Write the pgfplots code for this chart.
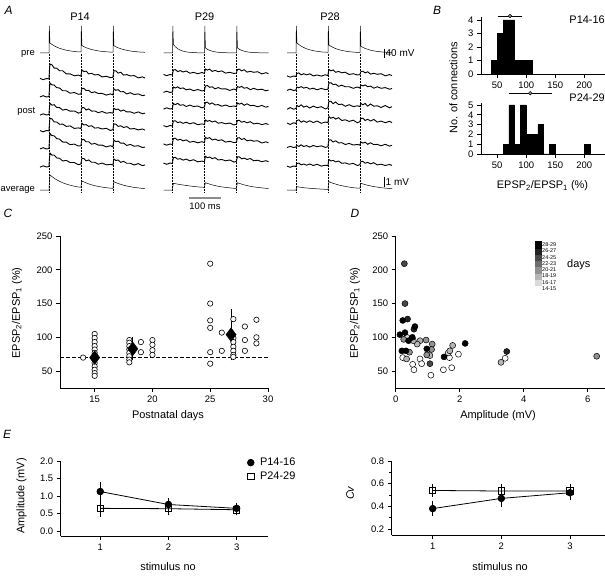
\documentclass[border=0pt]{standalone}
\usepackage{fontspec}
\setmainfont{Liberation Sans}
\usepackage{pgfplots}
\usepackage{pgfplotstable}
\pgfplotsset{compat=1.18}
\newcommand{\fs}[1]{\fontsize{#1}{#1}\selectfont}

% traces: t in ms from first stimulus, values in px above baseline
\pgfplotstableread{
t pre a b c d e f avg
-28 0 0.6 -0.4 -0.6 0.4 -0.4 -0.6 0
-18 0 -0.7 0.8 0.7 -0.8 0.8 0.7 0
-8 0 0.5 -0.5 -0.5 0.5 -0.5 -0.5 0
0 0 0 0 0 0 0 0 0
1 27 7 6.3 5.3 6.0 7 6.3 7
3 10 15 13.5 11.3 12.8 15 13.5 15
9 8.6 14.3 11.6 9.3 12.1 12.9 11.4 13.5
16 7.2 10.9 11.5 9.8 9.1 12.7 11.5 11.8
24 5.9 10.8 8.9 7.1 9.0 9.9 8.6 10.2
33 4.7 8.3 8.5 6.9 6.7 9.4 8.2 8.7
43 3.7 8.2 5.7 4.4 6.9 6.4 5.5 7.2
54 2.8 5.1 5.7 5.2 4.6 6.3 6.1 5.9
66 2.1 5.1 3.3 3.3 5.1 3.8 4.0 4.8
79 1.5 3.2 4.0 3.5 2.6 4.4 4.0 3.8
92 1.1 3.9 2.2 1.4 3.1 2.5 1.8 3.0
100 1.0 2.8 2.5 2.1 2.4 2.8 2.5 2.8
101 27 6 5.4 4.5 5.1 6 5.4 6
103 7.5 9 8.1 6.8 7.7 9 8.1 9
109 6.3 7.4 8.2 6.8 6.0 9.0 8.0 8.1
116 5.3 7.9 6.0 4.5 6.4 6.7 5.6 7.1
124 4.4 5.1 6.1 5.6 4.6 6.7 6.5 6.1
133 3.5 5.7 3.8 3.4 5.3 4.3 4.2 5.2
143 2.8 4.0 4.7 3.5 2.9 5.1 4.2 4.3
154 2.1 4.5 3.0 1.8 3.3 3.4 2.3 3.6
166 1.6 2.1 3.1 3.0 2.0 3.4 3.4 2.9
179 1.2 2.7 1.4 1.3 2.7 1.6 1.7 2.3
192 0.9 1.3 2.6 1.9 0.5 2.8 2.1 1.8
200 0.8 1.7 1.5 1.3 1.4 1.7 1.5 1.7
201 27 5 4.5 3.8 4.3 5 4.5 5
203 7.3 8.3 7.5 6.2 7.1 8.3 7.5 8.3
209 6.2 8.1 6.2 4.9 6.8 6.9 6.0 7.4
216 5.2 5.9 6.8 5.5 4.6 7.4 6.5 6.5
224 4.3 6.7 4.7 3.3 5.2 5.3 4.1 5.7
233 3.4 3.9 4.9 4.5 3.5 5.4 5.2 4.8
243 2.7 4.4 2.6 2.6 4.4 3.0 3.2 4.0
254 2.0 3.1 3.8 2.7 2.0 4.1 3.2 3.3
266 1.5 3.4 2.0 1.2 2.5 2.3 1.5 2.6
279 1.1 1.1 2.6 2.6 1.1 2.8 2.9 2.1
292 0.8 2.1 0.8 0.7 2.0 1.0 0.9 1.6
300 0.7 0.9 1.4 1.4 0.9 1.5 1.6 1.3
}\trA

\pgfplotstableread{
t pre a b c d e f avg
-28 0 0.6 -0.4 -0.6 0.4 0.6 0.4 0
-18 0 -0.7 0.8 0.7 -0.8 -0.7 -0.8 0
-8 0 0.5 -0.5 -0.5 0.5 0.5 0.5 0
0 0 0 0 0 0 0 0 0
1 27 2.5 2.5 2.5 2.5 3 3 3.4
3 8.3 5 5 5 5 6 6 6.7
9 6.2 5.4 4.0 3.8 5.2 6.3 6.1 6.3
16 4.3 3.4 5.2 5.2 3.4 4.3 4.3 5.9
24 2.9 4.4 3.5 3.2 4.1 5.2 4.9 5.4
33 1.9 3.0 4.1 3.8 2.7 3.7 3.4 5.0
43 1.1 4.0 2.2 2.0 3.8 4.6 4.4 4.5
54 0.7 1.8 3.0 3.4 2.2 2.3 2.7 4.0
66 0.4 2.6 1.3 2.0 3.3 3.1 3.8 3.6
79 0.2 1.3 2.5 2.5 1.3 1.7 1.7 3.1
92 0.1 2.5 1.1 0.7 2.1 2.8 2.4 2.8
100 0.1 1.5 1.5 1.5 1.5 1.8 1.8 2.7
101 27 3.5 3.5 3.5 3.5 4.2 4.2 5
103 5 6 6 6 6 7.2 7.2 7.3
109 3.7 4.9 6.5 6.3 4.7 6.0 5.8 6.6
116 2.6 5.9 4.7 4.3 5.5 6.9 6.5 5.9
124 1.8 3.6 5.2 5.6 4.0 4.5 4.9 5.1
133 1.1 4.6 3.2 3.6 5.0 5.4 5.8 4.4
143 0.7 3.3 4.4 3.9 2.8 4.0 3.5 3.7
154 0.4 4.1 3.0 2.3 3.4 4.7 4.0 3.1
166 0.3 1.9 3.2 3.5 2.2 2.4 2.7 2.6
179 0.1 2.7 1.6 1.9 3.0 3.2 3.5 2.1
192 0.1 1.5 3.0 2.5 1.0 1.9 1.4 1.7
200 0.1 1.9 1.9 1.9 1.9 2.3 2.3 1.6
201 27 3.5 3.5 3.5 3.5 4.2 4.2 4.5
203 5 5.5 5.5 5.5 5.5 6.6 6.6 7.3
209 3.7 5.8 4.6 4.4 5.6 6.8 6.6 6.6
216 2.6 4.1 5.6 5.3 3.8 5.0 4.7 5.9
224 1.8 5.2 3.8 3.2 4.6 6.0 5.4 5.1
233 1.1 2.9 4.4 4.7 3.2 3.7 4.0 4.4
243 0.7 3.7 2.3 2.9 4.3 4.4 5.0 3.7
254 0.4 2.7 3.7 3.1 2.1 3.3 2.7 3.1
266 0.3 3.3 2.2 1.7 2.8 3.8 3.3 2.6
279 0.1 1.1 2.8 3.1 1.4 1.5 1.8 2.1
292 0.1 2.3 1.2 1.3 2.4 2.7 2.8 1.7
300 0 1.3 1.9 2.1 1.5 1.6 1.8 1.5
}\trB

\pgfplotstableread{
t pre a b c d e f avg
-28 0 0.6 -0.4 -0.8 0.5 -0.6 0.4 0
-18 0 -0.7 0.8 0.9 -1.0 0.7 -0.8 0
-8 0 0.5 -0.5 -0.7 0.7 -0.5 0.5 0
0 0 0 0 0 0 0 0 0
1 27 1.5 1.5 1.5 1.5 1 1.5 1.6
3 10 3 3 3 3 1.5 3 3.3
9 8.4 3.6 2.2 1.8 3.6 0.6 3.4 3.0
16 6.9 1.6 3.4 3.7 1.3 2.2 1.6 2.7
24 5.5 2.8 1.9 1.4 2.6 0.5 2.5 2.3
33 4.2 1.6 2.7 2.5 1.1 1.4 1.3 2.0
43 3.2 2.7 0.9 0.4 2.7 -0.1 2.5 1.7
54 2.3 0.6 1.8 2.4 0.9 1.5 1.0 1.4
66 1.7 1.5 0.2 0.8 2.5 0.3 2.2 1.2
79 1.1 0.4 1.6 1.8 0.2 1.1 0.4 0.9
92 0.8 1.7 0.3 -0.4 1.5 -0.4 1.3 0.7
100 0.7 0.8 0.8 0.8 0.8 0.3 0.8 0.7
101 27 4 4 4 4 4 4 4.5
103 8 7 7 7 7 7 7 8.3
109 6.7 5.7 7.3 7.3 5.2 7.1 5.5 7.5
116 5.5 6.6 5.4 4.8 6.3 5.0 6.2 6.7
124 4.4 4.2 5.8 6.5 4.4 6.2 4.6 5.9
133 3.4 5.1 3.7 3.9 5.8 4.1 5.5 5.0
143 2.6 3.7 4.8 4.4 3.0 4.3 3.2 4.3
154 1.9 4.3 3.2 2.2 3.7 2.5 3.6 3.6
166 1.3 2.0 3.3 3.8 2.1 3.6 2.3 2.9
179 0.9 2.8 1.7 1.9 3.3 2.0 3.1 2.3
192 0.6 1.5 3.0 2.7 0.7 2.5 1.0 1.9
200 0.6 1.9 1.9 1.9 1.9 1.9 1.9 1.8
201 27 3.5 3.5 3.5 3.5 3.5 3.5 4.2
203 6.7 5 5 5 5 5 5 6.7
209 5.6 5.3 4.1 3.7 5.3 3.9 5.1 6.1
216 4.6 3.6 5.1 5.0 3.0 4.8 3.3 5.4
224 3.7 4.7 3.3 2.4 4.2 2.7 4.1 4.7
233 2.8 2.4 3.9 4.5 2.5 4.2 2.7 4.1
243 2.1 3.2 1.8 2.3 4.1 2.4 3.8 3.4
254 1.6 2.2 3.2 2.7 1.4 2.6 1.6 2.9
266 1.1 2.8 1.7 1.0 2.4 1.2 2.3 2.3
279 0.8 0.7 2.4 3.0 0.8 2.7 1.0 1.9
292 0.5 1.9 0.8 0.7 2.2 0.9 2.0 1.5
300 0.4 0.9 1.5 1.8 1.0 1.7 1.1 1.3
}\trC

\pgfplotsset{
  every axis/.append style={
    scale only axis, clip=false, anchor=south west,
    axis lines=left, axis line style={-, line width=0.8bp},
    tick style={line width=0.8bp, black}, tick align=outside,
    major tick length=4bp, minor tick length=2.5bp,
    tick label style={font=\fs{9.5}},
    /pgf/number format/assume math mode=true},
  colormap={days}{gray(0cm)=(1); gray(1cm)=(0)},
  trpost/.style={black, line width=0.9bp, no marks},
  trthin/.style={black, line width=0.5bp, no marks},
}

\begin{document}
\begin{tikzpicture}
% ---------- canvas in image pixels (panel A and free text) ----------
\begin{axis}[at={(0bp,0bp)}, width=605bp, height=579bp, hide axis,
  xmin=0, xmax=605, ymin=0, ymax=579, y dir=reverse]
% column P14
\addplot[trthin] table[x expr=\thisrow{t}*0.32+49, y expr=53-\thisrow{pre}] {\trA};
\addplot[trpost] table[x expr=\thisrow{t}*0.32+49, y expr=79-\thisrow{a}] {\trA};
\addplot[trpost] table[x expr=\thisrow{t}*0.32+49, y expr=96.5-\thisrow{b}] {\trA};
\addplot[trpost] table[x expr=\thisrow{t}*0.32+49, y expr=114.5-\thisrow{c}] {\trA};
\addplot[trpost] table[x expr=\thisrow{t}*0.32+49, y expr=131-\thisrow{d}] {\trA};
\addplot[trpost] table[x expr=\thisrow{t}*0.32+49, y expr=148.5-\thisrow{e}] {\trA};
\addplot[trpost] table[x expr=\thisrow{t}*0.32+49, y expr=166.5-\thisrow{f}] {\trA};
\addplot[trthin] table[x expr=\thisrow{t}*0.32+49, y expr=190-\thisrow{avg}] {\trA};
% column P29
\addplot[trthin] table[x expr=\thisrow{t}*0.32+172.5, y expr=53-\thisrow{pre}] {\trB};
\addplot[trpost] table[x expr=\thisrow{t}*0.32+172.5, y expr=75-\thisrow{a}] {\trB};
\addplot[trpost] table[x expr=\thisrow{t}*0.32+172.5, y expr=92-\thisrow{b}] {\trB};
\addplot[trpost] table[x expr=\thisrow{t}*0.32+172.5, y expr=108.5-\thisrow{c}] {\trB};
\addplot[trpost] table[x expr=\thisrow{t}*0.32+172.5, y expr=126-\thisrow{d}] {\trB};
\addplot[trpost] table[x expr=\thisrow{t}*0.32+172.5, y expr=144.5-\thisrow{e}] {\trB};
\addplot[trpost] table[x expr=\thisrow{t}*0.32+172.5, y expr=163.5-\thisrow{f}] {\trB};
\addplot[trthin] table[x expr=\thisrow{t}*0.32+172.5, y expr=190-\thisrow{avg}] {\trB};
% column P28
\addplot[trthin] table[x expr=\thisrow{t}*0.32+296, y expr=53-\thisrow{pre}] {\trC};
\addplot[trpost] table[x expr=\thisrow{t}*0.32+296, y expr=76.5-\thisrow{a}] {\trC};
\addplot[trpost] table[x expr=\thisrow{t}*0.32+296, y expr=90-\thisrow{b}] {\trC};
\addplot[trpost] table[x expr=\thisrow{t}*0.32+296, y expr=108.5-\thisrow{c}] {\trC};
\addplot[trpost] table[x expr=\thisrow{t}*0.32+296, y expr=123.5-\thisrow{d}] {\trC};
\addplot[trpost] table[x expr=\thisrow{t}*0.32+296, y expr=147-\thisrow{e}] {\trC};
\addplot[trpost] table[x expr=\thisrow{t}*0.32+296, y expr=166.5-\thisrow{f}] {\trC};
\addplot[trthin] table[x expr=\thisrow{t}*0.32+296, y expr=190-\thisrow{avg}] {\trC};
% stimulus markers
\draw[densely dotted, line width=0.5bp] (axis cs:49,54) -- (axis cs:49,193);
\draw[densely dotted, line width=0.5bp] (axis cs:81,54) -- (axis cs:81,193);
\draw[densely dotted, line width=0.5bp] (axis cs:113,54) -- (axis cs:113,193);
\draw[densely dotted, line width=0.5bp] (axis cs:172.5,54) -- (axis cs:172.5,193);
\draw[densely dotted, line width=0.5bp] (axis cs:204.5,54) -- (axis cs:204.5,193);
\draw[densely dotted, line width=0.5bp] (axis cs:236.5,54) -- (axis cs:236.5,193);
\draw[densely dotted, line width=0.5bp] (axis cs:296,54) -- (axis cs:296,193);
\draw[densely dotted, line width=0.5bp] (axis cs:328,54) -- (axis cs:328,193);
\draw[densely dotted, line width=0.5bp] (axis cs:360,54) -- (axis cs:360,193);
% scale bars
\draw[line width=0.7bp] (axis cs:384,49) -- (axis cs:384,58.5);
\draw[line width=0.7bp] (axis cs:384,177) -- (axis cs:384,187);
\draw[line width=1.2bp, black!45] (axis cs:189,198) -- (axis cs:221,198);
\node[anchor=west, font=\fs{10}, inner sep=1bp] at (axis cs:384.5,53.5) {40 mV};
\node[anchor=west, font=\fs{10}, inner sep=1bp] at (axis cs:384.5,182) {1 mV};
\node[font=\fs{9.5}] at (axis cs:205,206.5) {100 ms};
% panel A text
\node[font=\fs{12}\itshape] at (axis cs:8.5,10) {A};
\node[font=\fs{11}] at (axis cs:80,16.5) {P14};
\node[font=\fs{11}] at (axis cs:204.5,16.5) {P29};
\node[font=\fs{11}] at (axis cs:330,16.5) {P28};
\node[anchor=east, font=\fs{9.5}, inner sep=0pt] at (axis cs:35,54) {pre};
\node[anchor=east, font=\fs{9.5}, inner sep=0pt] at (axis cs:35.5,111) {post};
\node[anchor=east, font=\fs{9.5}, inner sep=0pt] at (axis cs:35,190) {average};
% panel B text
\node[font=\fs{12}\itshape] at (axis cs:437,10) {B};
\node[rotate=90, font=\fs{11}] at (axis cs:453.5,88) {No. of connections};
\node[font=\fs{11}] at (axis cs:542.5,186) {EPSP\textsubscript{2}/EPSP\textsubscript{1} (\%)};
\node[anchor=east, font=\fs{11}, inner sep=0pt] at (axis cs:605,20) {P14-16};
\node[anchor=east, font=\fs{11}, inner sep=0pt] at (axis cs:605,98) {P24-29};
% panel C, D text
\node[font=\fs{12}\itshape] at (axis cs:8,213) {C};
\node[font=\fs{12}\itshape] at (axis cs:355,213) {D};
\node[rotate=90, font=\fs{11}] at (axis cs:17,313) {EPSP\textsubscript{2}/EPSP\textsubscript{1} (\%)};
\node[rotate=90, font=\fs{11}] at (axis cs:355,313) {EPSP\textsubscript{2}/EPSP\textsubscript{1} (\%)};
\node[font=\fs{11}] at (axis cs:168,416) {Postnatal days};
\node[font=\fs{11}] at (axis cs:498,416) {Amplitude (mV)};
\node[anchor=west, font=\fs{11}, inner sep=0pt] at (axis cs:567,265) {days};
% panel E text
\node[font=\fs{12}\itshape] at (axis cs:7,434) {E};
\node[rotate=90, font=\fs{11}] at (axis cs:21.5,496) {Amplitude (mV)};
\node[rotate=90, font=\fs{11}] at (axis cs:350,493) {\textit{Cv}};
\node[font=\fs{11}] at (axis cs:168,567) {stimulus no};
\node[font=\fs{11}] at (axis cs:500,567) {stimulus no};
\end{axis}

% ---------- B: histograms ----------
\begin{axis}[at={(481bp,505bp)}, width=124bp, height=56.7bp,
  xmin=22, xmax=236, ymin=0, ymax=4.2, xtick={50,100,150,200}, ytick={0,1,2,3,4}]
\addplot[ybar interval, fill=black, draw=black] coordinates
  {(40,1) (50,3) (60,4) (70,4) (80,1) (90,1) (100,1) (110,0)};
\addplot[black, only marks, mark=*, mark size=1.8bp, mark options={fill=black!45, line width=0.5bp},
  error bars/.cd, x dir=both, x explicit, error bar style={line width=0.6bp},
  error mark options={mark size=2bp, line width=0.6bp}]
  coordinates {(72,4.3) +- (18,0)};
\end{axis}
\begin{axis}[at={(481bp,425bp)}, width=124bp, height=51bp,
  xmin=22, xmax=236, ymin=0, ymax=5.2, xtick={50,100,150,200}, ytick={0,1,2,3,4,5}]
\addplot[ybar interval, fill=black, draw=black] coordinates
  {(60,1) (70,5) (80,1) (90,5) (100,2) (110,2) (120,3) (130,0) (140,1) (150,0)};
\addplot[ybar interval, fill=black, draw=black] coordinates {(200,1) (210,0)};
\addplot[black, only marks, mark=*, mark size=1.8bp, mark options={fill=black!45, line width=0.5bp},
  error bars/.cd, x dir=both, x explicit, error bar style={line width=0.6bp},
  error mark options={mark size=2bp, line width=0.6bp}]
  coordinates {(107,6.2) +- (34,0)};
\end{axis}

% ---------- C: ratio vs age ----------
\begin{axis}[at={(60bp,191bp)}, width=208bp, height=152bp,
  xmin=12, xmax=30, ymin=25, ymax=250, xtick={15,20,25,30}, ytick={50,100,150,200,250}]
\addplot[black, line width=0.8bp, dash pattern=on 3.5bp off 2.5bp] coordinates {(12,70) (30,70)};
\addplot[black, only marks, mark=*, mark size=2.7bp, mark options={fill=white, line width=0.6bp}]
  coordinates {
  (14,70)
  (15,105) (15,99) (15,93) (15,87) (15,82) (15,77) (15,72) (15,67) (15,62) (15,57) (15,52) (15,47) (15,43)
  (18,96) (18,92) (18,87) (18,82) (18,77) (18,72) (18,67) (18,63)
  (19,93) (19,78)
  (20,96) (20,89) (20,81) (20,74)
  (25,209) (25,150) (25,125) (25,114) (25,78) (25,61)
  (26,107) (26,80)
  (27,127) (27,99) (27,93) (27,86) (27,80) (27,74) (27,71)
  (28,116) (28,96) (28,80)
  (29,126) (29,100) (29,91)};
\addplot[black, only marks, mark=diamond*, mark size=6.8bp,
  error bars/.cd, y dir=both, y explicit, error bar style={line width=0.8bp},
  error mark options={mark size=3.5bp, line width=0.8bp}]
  coordinates {(15,70) +- (0,16) (18.3,83) +- (0,12) (26.8,104) +- (0,33)};
\end{axis}

% ---------- D: ratio vs amplitude ----------
\begin{axis}[at={(395.7bp,191bp)}, width=209.3bp, height=152bp,
  xmin=0, xmax=6.54, ymin=25, ymax=250, xtick={0,2,4,6}, ytick={50,100,150,200,250},
  point meta min=14, point meta max=28]
\addplot[scatter, only marks, mark=*, mark size=3bp, point meta=explicit,
  scatter/use mapped color={draw=black, fill=mapped color}, line width=0.5bp]
  coordinates {
  (0.22,70) [14] (0.53,60) [14] (0.57,52) [14] (0.76,68) [14] (0.81,61) [14]
  (1.10,44) [14] (1.49,52) [14] (1.75,55) [14] (1.68,70) [14] (1.96,75) [14] (3.42,69) [14]
  (0.35,100) [16] (1.64,77) [16]
  (0.34,68) [18] (0.76,95) [18] (1.07,73) [18] (0.67,90) [18] (0.55,95) [18]
  (1.78,88) [18] (1.69,80) [18] (3.29,63) [18]
  (0.43,78) [20] (0.25,97) [20] (0.95,96) [20] (1.14,90) [20] (1.12,82) [20]
  (0.97,74) [20] (6.28,72) [20]
  (0.27,209) [24] (0.29,150) [24] (1.07,61) [24]
  (0.37,127) [26] (0.57,112) [26] (3.47,79) [26]
  (0.22,125) [28] (0.60,116) [28] (0.13,104) [28] (0.29,107) [28] (0.40,95) [28]
  (0.52,100) [28] (0.19,80) [28] (0.32,80) [28] (0.97,83) [28] (1.51,71) [28] (2.17,91) [28]};
\end{axis}
% colour key
\begin{axis}[at={(535bp,287.3bp)}, width=6bp, height=50bp, axis lines=box,
  axis line style={line width=0.4bp}, xmin=0, xmax=1, ymin=14, ymax=30,
  xtick=\empty, ytick={15,17,19,21,23,25,27,29}, yticklabel pos=right,
  yticklabels={14-15,16-17,18-19,20-21,22-23,24-25,26-27,28-29},
  major tick length=0pt, tick label style={font=\fs{5.5}, inner sep=1bp},
  point meta min=14, point meta max=28]
\addplot[scatter, only marks, mark=square*, mark size=3.1bp, point meta=explicit,
  scatter/use mapped color={draw=mapped color, fill=mapped color}]
  coordinates {(0.5,15) [14] (0.5,17) [16] (0.5,19) [18] (0.5,21) [20]
               (0.5,23) [22] (0.5,25) [24] (0.5,27) [26] (0.5,29) [28]};
\end{axis}

% ---------- E: amplitude and Cv ----------
\begin{axis}[at={(60.7bp,43bp)}, width=207.3bp, height=74.9bp,
  xmin=0.42, xmax=3.46, ymin=-0.14, ymax=2.0, xtick={1,2,3}, ytick={0,0.5,1,1.5,2},
  yticklabel style={/pgf/number format/.cd, fixed, fixed zerofill, precision=1},
  reverse legend,
  legend style={at={(0.9,1.07)}, anchor=north west, draw=none, fill=none,
    font=\fs{11}, inner sep=0pt, row sep=0.5bp, cells={anchor=west}},
  legend image code/.code={\draw[#1] plot[only marks] coordinates {(0.17cm,0cm)};}]
\addplot[black, line width=0.8bp, mark=square, mark size=3.2bp, mark options={fill=white, solid},
  error bars/.cd, y dir=both, y explicit, error bar style={line width=0.8bp},
  error mark options={mark size=3.2bp, line width=0.8bp}]
  coordinates {(1,0.65) +- (0,0.15) (2,0.64) +- (0,0.1) (3,0.61) +- (0,0.06)};
\addlegendentry{\hspace{4bp}P24-29}
\addplot[black, line width=0.8bp, mark=*, mark size=3.3bp,
  error bars/.cd, y dir=both, y explicit, error bar style={line width=0.8bp},
  error mark options={mark size=3.2bp, line width=0.8bp}]
  coordinates {(1,1.13) +- (0,0.17) (2,0.76) +- (0,0.1) (3,0.65) +- (0,0.07)};
\addlegendentry{\hspace{4bp}P14-16}
\end{axis}
\begin{axis}[at={(391.7bp,44bp)}, width=213.3bp, height=74bp,
  xmin=0.403, xmax=3.51, ymin=0.147, ymax=0.8, xtick={1,2,3},
  ytick={0.2,0.4,0.6,0.8}, minor ytick={0.3,0.5,0.7},
  yticklabel style={/pgf/number format/.cd, fixed, fixed zerofill, precision=1}]
\addplot[black, line width=0.8bp, mark=square, mark size=3.2bp, mark options={fill=white, solid},
  error bars/.cd, y dir=both, y explicit, error bar style={line width=0.8bp},
  error mark options={mark size=3.2bp, line width=0.8bp}]
  coordinates {(1,0.54) +- (0,0.03) (2,0.535) +- (0,0.03) (3,0.535) +- (0,0.03)};
\addplot[black, line width=0.8bp, mark=*, mark size=3.3bp,
  error bars/.cd, y dir=both, y explicit, error bar style={line width=0.8bp},
  error mark options={mark size=3.2bp, line width=0.8bp}]
  coordinates {(1,0.38) +- (0,0.035) (2,0.47) +- (0,0.05) (3,0.52) +- (0,0.04)};
\end{axis}
\pgfresetboundingbox
\path[use as bounding box] (0bp,0bp) rectangle (605bp,579bp);
\end{tikzpicture}
\end{document}
